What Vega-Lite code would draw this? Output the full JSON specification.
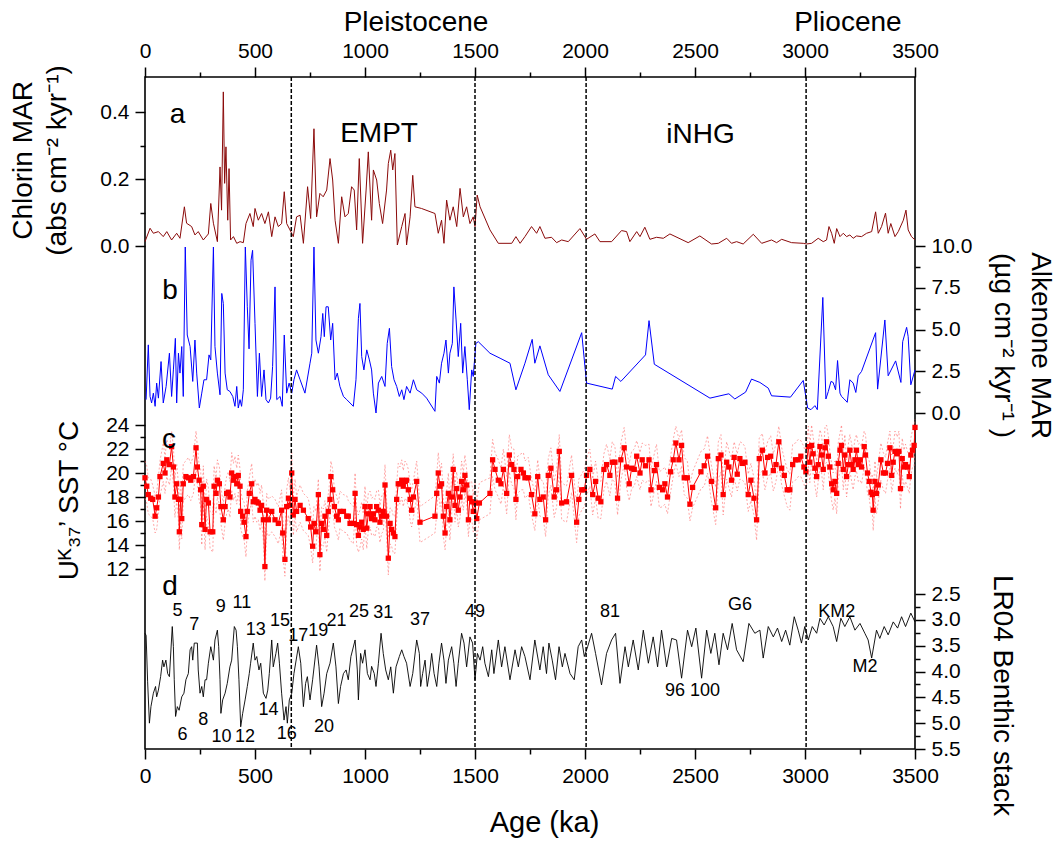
{
"$schema":"https://vega.github.io/schema/vega-lite/v6.json",
"width":770,"height":672,
"autosize":{"type":"none"},
"padding":{"left":145,"top":77,"right":141,"bottom":94},
"background":"white",
"config":{
 "view":{"stroke":"black","strokeWidth":1.6},
 "font":"Liberation Sans",
 "axis":{"domain":false,"grid":false,"labelFont":"Liberation Sans","labelFontSize":21,"labelColor":"black","titleFont":"Liberation Sans","titleFontSize":28,"titleFontWeight":"normal","titleColor":"black","tickColor":"black","tickWidth":1.5,"labelPadding":6,"labelFlush":false,"labelOverlap":false,"labelBound":false},
 "text":{"font":"Liberation Sans","color":"black"}
},
"datasets":{
"vl":[{"t":665},{"t":1500},{"t":2005},{"t":3005}],
"chl":[{"t":0,"v":0.013},{"t":23,"v":0.053},{"t":38,"v":0.038},{"t":61,"v":0.043},{"t":83,"v":0.028},{"t":99,"v":0.043},{"t":121,"v":0.018},{"t":144,"v":0.038},{"t":159,"v":0.023},{"t":179,"v":0.117},{"t":189,"v":0.068},{"t":212,"v":0.058},{"t":227,"v":0.033},{"t":242,"v":0.043},{"t":265,"v":0.018},{"t":288,"v":0.036},{"t":299,"v":0.127},{"t":311,"v":0.068},{"t":329,"v":0.013},{"t":341,"v":0.236},{"t":348,"v":0.107},{"t":356,"v":0.46},{"t":362,"v":0.187},{"t":368,"v":0.296},{"t":376,"v":0.077},{"t":382,"v":0.231},{"t":389,"v":0.018},{"t":402,"v":0.028},{"t":417,"v":0.008},{"t":432,"v":0.013},{"t":447,"v":0.01},{"t":459,"v":0.067},{"t":477,"v":0.097},{"t":492,"v":0.058},{"t":500,"v":0.112},{"t":515,"v":0.077},{"t":530,"v":0.097},{"t":545,"v":0.067},{"t":561,"v":0.102},{"t":576,"v":0.028},{"t":591,"v":0.087},{"t":606,"v":0.058},{"t":621,"v":0.067},{"t":633,"v":0.162},{"t":644,"v":0.067},{"t":659,"v":0.048},{"t":674,"v":0.028},{"t":689,"v":0.087},{"t":705,"v":0.092},{"t":720,"v":0.008},{"t":739,"v":0.177},{"t":753,"v":0.082},{"t":768,"v":0.35},{"t":780,"v":0.087},{"t":795,"v":0.157},{"t":810,"v":0.147},{"t":826,"v":0.167},{"t":841,"v":0.261},{"t":853,"v":0.197},{"t":864,"v":0.077},{"t":879,"v":0.008},{"t":894,"v":0.147},{"t":909,"v":0.087},{"t":924,"v":0.097},{"t":939,"v":0.177},{"t":951,"v":0.167},{"t":962,"v":0.048},{"t":974,"v":0.261},{"t":989,"v":0.008},{"t":1005,"v":0.167},{"t":1015,"v":0.281},{"t":1030,"v":0.077},{"t":1038,"v":0.227},{"t":1053,"v":0.197},{"t":1065,"v":0.127},{"t":1080,"v":0.067},{"t":1098,"v":0.167},{"t":1106,"v":0.246},{"t":1117,"v":0.286},{"t":1126,"v":0.227},{"t":1136,"v":0.276},{"t":1147,"v":0.003},{"t":1167,"v":0.058},{"t":1182,"v":0.097},{"t":1189,"v":0.003},{"t":1205,"v":0.087},{"t":1217,"v":0.211},{"t":1227,"v":0.117},{"t":1257,"v":0.112},{"t":1318,"v":0.097},{"t":1333,"v":0.038},{"t":1348,"v":0.077},{"t":1359,"v":0.008},{"t":1371,"v":0.137},{"t":1386,"v":0.077},{"t":1401,"v":0.117},{"t":1417,"v":0.058},{"t":1432,"v":0.172},{"t":1447,"v":0.087},{"t":1462,"v":0.117},{"t":1477,"v":0.067},{"t":1492,"v":0.087},{"t":1500,"v":0.058},{"t":1510,"v":0.152},{"t":1523,"v":0.117},{"t":1568,"v":0.048},{"t":1606,"v":0.008},{"t":1667,"v":0.008},{"t":1686,"v":0.028},{"t":1705,"v":0.008},{"t":1727,"v":0.028},{"t":1757,"v":0.058},{"t":1780,"v":0.038},{"t":1795,"v":0.058},{"t":1818,"v":0.023},{"t":1848,"v":0.026},{"t":1871,"v":0.01},{"t":1894,"v":0.018},{"t":1924,"v":0.013},{"t":1977,"v":0.052},{"t":2007,"v":0.02},{"t":2045,"v":0.036},{"t":2068,"v":0.013},{"t":2121,"v":0.013},{"t":2166,"v":0.046},{"t":2189,"v":0.043},{"t":2204,"v":0.013},{"t":2235,"v":0.043},{"t":2250,"v":0.028},{"t":2272,"v":0.056},{"t":2295,"v":0.02},{"t":2325,"v":0.026},{"t":2356,"v":0.023},{"t":2386,"v":0.036},{"t":2469,"v":0.01},{"t":2522,"v":0.03},{"t":2575,"v":0.006},{"t":2606,"v":0.008},{"t":2644,"v":0.023},{"t":2666,"v":0.008},{"t":2689,"v":0.013},{"t":2719,"v":0.006},{"t":2765,"v":0.035},{"t":2803,"v":0.008},{"t":2848,"v":0.018},{"t":2871,"v":0.01},{"t":2894,"v":0.02},{"t":2939,"v":0.01},{"t":2992,"v":0.008},{"t":3007,"v":0.006},{"t":3030,"v":0.008},{"t":3060,"v":0.023},{"t":3083,"v":0.013},{"t":3098,"v":0.018},{"t":3109,"v":0.058},{"t":3121,"v":0.038},{"t":3133,"v":0.008},{"t":3144,"v":0.052},{"t":3159,"v":0.028},{"t":3174,"v":0.038},{"t":3189,"v":0.028},{"t":3204,"v":0.033},{"t":3219,"v":0.023},{"t":3234,"v":0.03},{"t":3257,"v":0.028},{"t":3280,"v":0.038},{"t":3303,"v":0.043},{"t":3321,"v":0.102},{"t":3333,"v":0.038},{"t":3348,"v":0.058},{"t":3366,"v":0.098},{"t":3378,"v":0.038},{"t":3390,"v":0.067},{"t":3409,"v":0.028},{"t":3424,"v":0.043},{"t":3447,"v":0.077},{"t":3459,"v":0.107},{"t":3469,"v":0.048},{"t":3484,"v":0.028},{"t":3500,"v":0.018}],
"alk":[{"t":5,"v":0.8},{"t":15,"v":4.08},{"t":23,"v":0.99},{"t":30,"v":0.6},{"t":38,"v":1.19},{"t":46,"v":0.4},{"t":53,"v":1.79},{"t":61,"v":0.89},{"t":73,"v":3.08},{"t":83,"v":0.6},{"t":96,"v":1.59},{"t":111,"v":3.58},{"t":121,"v":0.99},{"t":129,"v":2.58},{"t":138,"v":4.47},{"t":144,"v":0.6},{"t":152,"v":3.58},{"t":159,"v":2.39},{"t":167,"v":3.98},{"t":174,"v":0.99},{"t":183,"v":9.94},{"t":192,"v":4.67},{"t":205,"v":3.98},{"t":217,"v":1.89},{"t":227,"v":4.37},{"t":235,"v":2.39},{"t":247,"v":0.3},{"t":258,"v":1.19},{"t":268,"v":1.99},{"t":280,"v":1.99},{"t":291,"v":3.48},{"t":299,"v":3.18},{"t":311,"v":9.94},{"t":318,"v":3.98},{"t":329,"v":2.39},{"t":341,"v":1.09},{"t":349,"v":7.16},{"t":356,"v":6.56},{"t":364,"v":2.39},{"t":374,"v":1.39},{"t":386,"v":1.29},{"t":399,"v":0.99},{"t":409,"v":0.4},{"t":417,"v":1.59},{"t":424,"v":0.3},{"t":432,"v":0.8},{"t":439,"v":0.4},{"t":447,"v":1.39},{"t":456,"v":9.94},{"t":465,"v":6.36},{"t":473,"v":3.84},{"t":482,"v":9.15},{"t":489,"v":9.74},{"t":500,"v":5.37},{"t":511,"v":0.99},{"t":520,"v":3.58},{"t":530,"v":0.99},{"t":541,"v":2.58},{"t":550,"v":0.8},{"t":561,"v":0.6},{"t":571,"v":0.89},{"t":580,"v":2.78},{"t":591,"v":7.55},{"t":599,"v":0.8},{"t":614,"v":0.99},{"t":624,"v":0.4},{"t":633,"v":4.67},{"t":644,"v":1.19},{"t":655,"v":1.79},{"t":667,"v":1.19},{"t":677,"v":1.99},{"t":689,"v":2.58},{"t":705,"v":1.99},{"t":727,"v":1.19},{"t":750,"v":2.98},{"t":758,"v":3.58},{"t":768,"v":9.94},{"t":777,"v":4.37},{"t":788,"v":3.58},{"t":800,"v":4.57},{"t":808,"v":5.96},{"t":815,"v":4.57},{"t":823,"v":6.36},{"t":833,"v":6.36},{"t":844,"v":4.37},{"t":853,"v":5.37},{"t":864,"v":1.99},{"t":874,"v":2.39},{"t":886,"v":1.59},{"t":902,"v":0.99},{"t":917,"v":0.8},{"t":947,"v":0.4},{"t":959,"v":1.99},{"t":970,"v":5.67},{"t":977,"v":6.56},{"t":985,"v":3.38},{"t":995,"v":2.58},{"t":1008,"v":3.78},{"t":1020,"v":3.18},{"t":1030,"v":2.58},{"t":1038,"v":1.19},{"t":1050,"v":0.0},{"t":1061,"v":1.79},{"t":1076,"v":2.19},{"t":1091,"v":1.59},{"t":1101,"v":4.17},{"t":1111,"v":5.07},{"t":1121,"v":2.78},{"t":1132,"v":1.99},{"t":1144,"v":1.59},{"t":1156,"v":0.99},{"t":1167,"v":1.39},{"t":1177,"v":0.8},{"t":1189,"v":1.59},{"t":1205,"v":1.19},{"t":1220,"v":1.99},{"t":1235,"v":1.39},{"t":1258,"v":1.19},{"t":1280,"v":0.89},{"t":1318,"v":0.1},{"t":1326,"v":2.19},{"t":1338,"v":1.79},{"t":1348,"v":2.98},{"t":1359,"v":3.58},{"t":1368,"v":4.37},{"t":1379,"v":2.39},{"t":1386,"v":3.58},{"t":1397,"v":4.17},{"t":1404,"v":7.55},{"t":1414,"v":5.57},{"t":1424,"v":3.38},{"t":1435,"v":5.37},{"t":1444,"v":2.39},{"t":1454,"v":3.98},{"t":1465,"v":1.99},{"t":1474,"v":0.2},{"t":1485,"v":2.58},{"t":1492,"v":2.19},{"t":1504,"v":4.17},{"t":1515,"v":4.27},{"t":1568,"v":3.58},{"t":1614,"v":3.28},{"t":1659,"v":2.98},{"t":1686,"v":1.39},{"t":1727,"v":2.98},{"t":1760,"v":4.41},{"t":1772,"v":2.98},{"t":1795,"v":4.02},{"t":1833,"v":2.29},{"t":1886,"v":1.29},{"t":1985,"v":4.81},{"t":2007,"v":1.79},{"t":2124,"v":1.43},{"t":2139,"v":2.19},{"t":2163,"v":1.89},{"t":2275,"v":3.48},{"t":2291,"v":5.53},{"t":2315,"v":2.92},{"t":2568,"v":0.89},{"t":2654,"v":1.15},{"t":2681,"v":0.84},{"t":2730,"v":1.25},{"t":2757,"v":2.03},{"t":2795,"v":1.83},{"t":2833,"v":1.49},{"t":2848,"v":1.03},{"t":2934,"v":0.95},{"t":2992,"v":1.95},{"t":3012,"v":0.3},{"t":3027,"v":0.2},{"t":3045,"v":0.44},{"t":3056,"v":0.2},{"t":3081,"v":6.92},{"t":3095,"v":0.84},{"t":3106,"v":1.29},{"t":3118,"v":1.89},{"t":3128,"v":1.83},{"t":3139,"v":1.39},{"t":3148,"v":3.14},{"t":3159,"v":1.19},{"t":3166,"v":0.99},{"t":3178,"v":0.84},{"t":3192,"v":0.64},{"t":3204,"v":1.99},{"t":3219,"v":1.79},{"t":3231,"v":1.23},{"t":3242,"v":2.23},{"t":3257,"v":2.49},{"t":3321,"v":4.81},{"t":3330,"v":1.43},{"t":3363,"v":5.57},{"t":3378,"v":2.23},{"t":3412,"v":3.12},{"t":3436,"v":1.83},{"t":3444,"v":4.27},{"t":3462,"v":5.13},{"t":3469,"v":4.57},{"t":3481,"v":1.69},{"t":3500,"v":2.58}],
"sst":[{"t":0,"v":19.6,"h":21.0,"l":17.9},{"t":8,"v":18.9,"h":20.6,"l":17.5},{"t":15,"v":18.2,"h":19.6,"l":16.6},{"t":26,"v":17.9,"h":19.5,"l":16.4},{"t":35,"v":17.8,"h":19.0,"l":16.2},{"t":46,"v":16.4,"h":18.1,"l":15.0},{"t":53,"v":17.1,"h":18.4,"l":15.3},{"t":61,"v":18.0,"h":19.7,"l":16.6},{"t":68,"v":19.7,"h":21.0,"l":18.1},{"t":83,"v":20.8,"h":22.5,"l":19.3},{"t":91,"v":20.0,"h":21.3,"l":18.3},{"t":99,"v":21.1,"h":22.8,"l":19.7},{"t":111,"v":20.7,"h":22.0,"l":19.0},{"t":121,"v":22.2,"h":23.5,"l":20.5},{"t":129,"v":20.5,"h":22.2,"l":19.1},{"t":136,"v":18.0,"h":19.5,"l":16.3},{"t":144,"v":19.1,"h":20.8,"l":17.7},{"t":152,"v":17.8,"h":19.1,"l":16.0},{"t":156,"v":15.1,"h":16.8,"l":13.6},{"t":162,"v":17.8,"h":19.4,"l":16.3},{"t":167,"v":16.2,"h":17.6,"l":14.5},{"t":174,"v":19.1,"h":20.8,"l":17.6},{"t":186,"v":19.7,"h":21.0,"l":18.0},{"t":197,"v":19.6,"h":21.3,"l":18.2},{"t":208,"v":19.4,"h":20.8,"l":17.7},{"t":220,"v":19.7,"h":21.4,"l":18.3},{"t":232,"v":22.1,"h":23.5,"l":20.4},{"t":238,"v":20.5,"h":22.2,"l":19.1},{"t":246,"v":19.4,"h":20.7,"l":17.7},{"t":253,"v":18.6,"h":20.3,"l":17.2},{"t":258,"v":15.7,"h":17.1,"l":14.0},{"t":265,"v":18.9,"h":20.6,"l":17.5},{"t":273,"v":15.3,"h":16.6,"l":13.6},{"t":280,"v":17.8,"h":19.5,"l":16.4},{"t":288,"v":17.5,"h":18.8,"l":15.8},{"t":296,"v":15.1,"h":16.8,"l":13.7},{"t":308,"v":15.1,"h":16.5,"l":13.4},{"t":314,"v":18.9,"h":20.6,"l":17.5},{"t":323,"v":18.3,"h":19.6,"l":16.6},{"t":329,"v":19.4,"h":21.1,"l":18.0},{"t":338,"v":19.1,"h":20.5,"l":17.4},{"t":345,"v":17.2,"h":18.9,"l":15.8},{"t":356,"v":16.1,"h":17.4,"l":14.4},{"t":364,"v":17.2,"h":18.9,"l":15.8},{"t":371,"v":18.3,"h":19.7,"l":16.6},{"t":379,"v":18.4,"h":20.1,"l":17.0},{"t":386,"v":18.0,"h":19.3,"l":16.3},{"t":394,"v":20.0,"h":21.7,"l":18.6},{"t":402,"v":19.4,"h":20.8,"l":17.7},{"t":409,"v":19.7,"h":21.4,"l":18.3},{"t":417,"v":19.1,"h":20.4,"l":17.4},{"t":424,"v":19.8,"h":21.5,"l":18.4},{"t":432,"v":18.9,"h":20.3,"l":17.2},{"t":435,"v":16.8,"h":18.5,"l":15.4},{"t":444,"v":16.4,"h":17.7,"l":14.7},{"t":450,"v":15.9,"h":17.6,"l":14.5},{"t":459,"v":14.7,"h":16.1,"l":13.0},{"t":465,"v":16.8,"h":18.5,"l":15.4},{"t":474,"v":18.3,"h":19.6,"l":16.6},{"t":485,"v":19.1,"h":20.8,"l":17.7},{"t":492,"v":17.6,"h":19.0,"l":15.9},{"t":500,"v":17.8,"h":19.5,"l":16.4},{"t":508,"v":17.6,"h":18.9,"l":15.9},{"t":515,"v":17.5,"h":19.2,"l":16.1},{"t":523,"v":16.9,"h":18.3,"l":15.2},{"t":530,"v":17.3,"h":19.0,"l":15.9},{"t":538,"v":16.1,"h":17.4,"l":14.4},{"t":545,"v":12.2,"h":13.9,"l":11.0},{"t":553,"v":16.9,"h":18.3,"l":15.2},{"t":561,"v":16.1,"h":17.8,"l":14.7},{"t":576,"v":16.8,"h":18.1,"l":15.1},{"t":591,"v":16.1,"h":17.8,"l":14.7},{"t":606,"v":15.8,"h":17.2,"l":14.1},{"t":621,"v":16.9,"h":18.6,"l":15.5},{"t":626,"v":15.0,"h":16.3,"l":13.3},{"t":636,"v":12.8,"h":14.5,"l":11.4},{"t":644,"v":17.2,"h":18.6,"l":15.5},{"t":652,"v":17.9,"h":19.6,"l":16.5},{"t":659,"v":17.3,"h":18.6,"l":15.6},{"t":667,"v":20.0,"h":21.7,"l":18.6},{"t":674,"v":16.5,"h":17.9,"l":14.8},{"t":682,"v":17.8,"h":19.5,"l":16.4},{"t":689,"v":16.8,"h":18.1,"l":15.1},{"t":705,"v":17.3,"h":19.0,"l":15.9},{"t":720,"v":16.9,"h":18.3,"l":15.2},{"t":742,"v":16.2,"h":17.9,"l":14.8},{"t":753,"v":15.5,"h":16.8,"l":13.8},{"t":762,"v":13.9,"h":15.6,"l":12.5},{"t":768,"v":15.8,"h":17.2,"l":14.1},{"t":777,"v":15.1,"h":16.8,"l":13.7},{"t":788,"v":18.2,"h":19.5,"l":16.5},{"t":795,"v":13.2,"h":14.9,"l":11.8},{"t":803,"v":15.8,"h":17.2,"l":14.1},{"t":811,"v":15.3,"h":17.0,"l":13.9},{"t":818,"v":16.4,"h":17.7,"l":14.7},{"t":826,"v":14.8,"h":16.5,"l":13.4},{"t":833,"v":16.8,"h":18.2,"l":15.1},{"t":841,"v":17.8,"h":19.5,"l":16.4},{"t":845,"v":19.7,"h":21.0,"l":18.0},{"t":853,"v":18.6,"h":20.3,"l":17.2},{"t":861,"v":17.2,"h":18.6,"l":15.5},{"t":871,"v":16.4,"h":18.1,"l":15.0},{"t":879,"v":16.1,"h":17.4,"l":14.4},{"t":886,"v":16.8,"h":18.5,"l":15.4},{"t":902,"v":16.8,"h":18.2,"l":15.1},{"t":917,"v":16.4,"h":18.1,"l":15.0},{"t":924,"v":16.4,"h":17.7,"l":14.7},{"t":932,"v":15.8,"h":17.5,"l":14.4},{"t":947,"v":15.8,"h":17.2,"l":14.1},{"t":955,"v":18.3,"h":20.0,"l":16.9},{"t":962,"v":15.7,"h":17.0,"l":14.0},{"t":970,"v":14.8,"h":16.5,"l":13.4},{"t":977,"v":15.5,"h":16.9,"l":13.8},{"t":985,"v":15.9,"h":17.6,"l":14.5},{"t":992,"v":15.3,"h":16.6,"l":13.6},{"t":1000,"v":17.2,"h":18.9,"l":15.8},{"t":1008,"v":15.4,"h":16.8,"l":13.7},{"t":1015,"v":16.6,"h":18.3,"l":15.2},{"t":1023,"v":17.2,"h":18.5,"l":15.5},{"t":1030,"v":16.2,"h":17.9,"l":14.8},{"t":1038,"v":16.6,"h":18.0,"l":14.9},{"t":1045,"v":16.1,"h":17.8,"l":14.7},{"t":1053,"v":17.2,"h":18.5,"l":15.5},{"t":1061,"v":16.9,"h":18.6,"l":15.5},{"t":1068,"v":15.9,"h":17.3,"l":14.2},{"t":1076,"v":16.4,"h":18.1,"l":15.0},{"t":1083,"v":16.8,"h":18.1,"l":15.1},{"t":1091,"v":19.0,"h":20.7,"l":17.6},{"t":1098,"v":16.4,"h":17.8,"l":14.7},{"t":1106,"v":12.9,"h":14.6,"l":11.5},{"t":1114,"v":15.8,"h":17.1,"l":14.1},{"t":1121,"v":15.3,"h":17.0,"l":13.9},{"t":1129,"v":15.0,"h":16.4,"l":13.3},{"t":1136,"v":14.7,"h":16.4,"l":13.3},{"t":1144,"v":17.8,"h":19.1,"l":16.1},{"t":1151,"v":19.1,"h":20.8,"l":17.7},{"t":1159,"v":19.1,"h":20.5,"l":17.4},{"t":1167,"v":19.4,"h":21.1,"l":18.0},{"t":1174,"v":18.9,"h":20.2,"l":17.2},{"t":1182,"v":19.3,"h":21.0,"l":17.9},{"t":1189,"v":19.4,"h":20.8,"l":17.7},{"t":1197,"v":18.6,"h":20.3,"l":17.2},{"t":1205,"v":17.8,"h":19.1,"l":16.1},{"t":1212,"v":16.9,"h":18.6,"l":15.5},{"t":1220,"v":18.0,"h":19.4,"l":16.3},{"t":1235,"v":19.3,"h":21.0,"l":17.9},{"t":1250,"v":15.9,"h":17.2,"l":14.2},{"t":1318,"v":16.4,"h":18.1,"l":15.0},{"t":1326,"v":18.3,"h":19.7,"l":16.6},{"t":1333,"v":20.0,"h":21.7,"l":18.6},{"t":1341,"v":18.9,"h":20.2,"l":17.2},{"t":1348,"v":19.1,"h":20.8,"l":17.7},{"t":1356,"v":16.4,"h":17.8,"l":14.7},{"t":1364,"v":15.0,"h":16.7,"l":13.6},{"t":1371,"v":17.2,"h":18.5,"l":15.5},{"t":1379,"v":18.3,"h":20.0,"l":16.9},{"t":1386,"v":16.1,"h":17.5,"l":14.4},{"t":1394,"v":18.0,"h":19.7,"l":16.6},{"t":1401,"v":20.3,"h":21.6,"l":18.6},{"t":1409,"v":17.3,"h":19.0,"l":15.9},{"t":1417,"v":18.7,"h":20.1,"l":17.0},{"t":1424,"v":16.9,"h":18.6,"l":15.5},{"t":1432,"v":18.0,"h":19.3,"l":16.3},{"t":1439,"v":19.3,"h":21.0,"l":17.9},{"t":1447,"v":18.6,"h":20.0,"l":16.9},{"t":1454,"v":19.8,"h":21.5,"l":18.4},{"t":1462,"v":19.0,"h":20.3,"l":17.3},{"t":1470,"v":16.1,"h":17.8,"l":14.7},{"t":1477,"v":17.9,"h":19.3,"l":16.2},{"t":1485,"v":17.6,"h":19.3,"l":16.2},{"t":1492,"v":16.8,"h":18.1,"l":15.1},{"t":1500,"v":17.5,"h":19.2,"l":16.1},{"t":1508,"v":16.2,"h":17.6,"l":14.5},{"t":1520,"v":17.5,"h":19.2,"l":16.1},{"t":1568,"v":18.3,"h":19.6,"l":16.6},{"t":1580,"v":21.1,"h":22.8,"l":19.7},{"t":1591,"v":20.3,"h":21.7,"l":18.6},{"t":1606,"v":19.4,"h":21.1,"l":18.0},{"t":1618,"v":19.1,"h":20.4,"l":17.4},{"t":1629,"v":20.3,"h":22.0,"l":18.9},{"t":1644,"v":18.3,"h":19.7,"l":16.6},{"t":1656,"v":21.5,"h":23.2,"l":20.1},{"t":1667,"v":20.7,"h":22.0,"l":19.0},{"t":1677,"v":20.3,"h":22.0,"l":18.9},{"t":1686,"v":17.8,"h":19.2,"l":16.1},{"t":1694,"v":19.7,"h":21.4,"l":18.3},{"t":1709,"v":20.3,"h":21.6,"l":18.6},{"t":1720,"v":20.0,"h":21.7,"l":18.6},{"t":1727,"v":19.6,"h":21.0,"l":17.9},{"t":1742,"v":19.6,"h":21.3,"l":18.2},{"t":1757,"v":18.2,"h":19.5,"l":16.5},{"t":1772,"v":16.6,"h":18.3,"l":15.2},{"t":1785,"v":19.7,"h":21.1,"l":18.0},{"t":1795,"v":17.8,"h":19.5,"l":16.4},{"t":1810,"v":18.0,"h":19.3,"l":16.3},{"t":1821,"v":16.1,"h":17.8,"l":14.7},{"t":1833,"v":19.8,"h":21.2,"l":18.1},{"t":1845,"v":20.4,"h":22.1,"l":19.0},{"t":1860,"v":18.0,"h":19.3,"l":16.3},{"t":1871,"v":18.6,"h":20.3,"l":17.2},{"t":1883,"v":21.8,"h":23.2,"l":20.1},{"t":1894,"v":17.5,"h":19.2,"l":16.1},{"t":1916,"v":17.6,"h":18.9,"l":15.9},{"t":1939,"v":19.8,"h":21.5,"l":18.4},{"t":1962,"v":15.9,"h":17.3,"l":14.2},{"t":1972,"v":17.8,"h":19.5,"l":16.4},{"t":1985,"v":18.6,"h":19.9,"l":16.9},{"t":1997,"v":18.6,"h":20.3,"l":17.2},{"t":2007,"v":19.8,"h":21.2,"l":18.1},{"t":2022,"v":20.3,"h":22.0,"l":18.9},{"t":2035,"v":18.2,"h":19.5,"l":16.5},{"t":2048,"v":19.3,"h":21.0,"l":17.9},{"t":2060,"v":17.9,"h":19.3,"l":16.2},{"t":2072,"v":17.6,"h":19.3,"l":16.2},{"t":2086,"v":20.3,"h":21.6,"l":18.6},{"t":2098,"v":20.7,"h":22.4,"l":19.3},{"t":2113,"v":19.8,"h":21.2,"l":18.1},{"t":2124,"v":20.9,"h":22.6,"l":19.5},{"t":2136,"v":20.9,"h":22.2,"l":19.2},{"t":2148,"v":17.9,"h":19.6,"l":16.5},{"t":2163,"v":21.1,"h":22.5,"l":19.4},{"t":2178,"v":22.1,"h":23.8,"l":20.7},{"t":2189,"v":20.5,"h":21.8,"l":18.8},{"t":2201,"v":19.1,"h":20.8,"l":17.7},{"t":2212,"v":20.4,"h":21.8,"l":18.7},{"t":2224,"v":20.3,"h":22.0,"l":18.9},{"t":2235,"v":21.4,"h":22.7,"l":19.7},{"t":2250,"v":20.0,"h":21.7,"l":18.6},{"t":2260,"v":21.1,"h":22.5,"l":19.4},{"t":2275,"v":20.6,"h":22.3,"l":19.2},{"t":2291,"v":21.1,"h":22.4,"l":19.4},{"t":2300,"v":18.6,"h":20.3,"l":17.2},{"t":2315,"v":20.2,"h":21.6,"l":18.5},{"t":2325,"v":20.7,"h":22.4,"l":19.3},{"t":2338,"v":18.8,"h":20.1,"l":17.1},{"t":2353,"v":18.6,"h":20.3,"l":17.2},{"t":2363,"v":19.1,"h":20.5,"l":17.4},{"t":2375,"v":18.0,"h":19.7,"l":16.6},{"t":2389,"v":20.1,"h":21.4,"l":18.4},{"t":2401,"v":21.1,"h":22.8,"l":19.7},{"t":2413,"v":22.5,"h":23.9,"l":20.8},{"t":2427,"v":21.1,"h":22.8,"l":19.7},{"t":2439,"v":22.3,"h":23.6,"l":20.6},{"t":2451,"v":19.6,"h":21.3,"l":18.2},{"t":2465,"v":19.6,"h":21.0,"l":17.9},{"t":2477,"v":17.4,"h":19.1,"l":16.0},{"t":2489,"v":18.8,"h":20.1,"l":17.1},{"t":2527,"v":20.1,"h":21.8,"l":18.7},{"t":2542,"v":20.6,"h":22.0,"l":18.9},{"t":2557,"v":21.4,"h":23.1,"l":20.0},{"t":2575,"v":19.3,"h":20.6,"l":17.6},{"t":2594,"v":17.1,"h":18.8,"l":15.7},{"t":2606,"v":21.2,"h":22.6,"l":19.5},{"t":2618,"v":21.5,"h":23.2,"l":20.1},{"t":2628,"v":18.2,"h":19.5,"l":16.5},{"t":2644,"v":20.9,"h":22.6,"l":19.5},{"t":2654,"v":20.5,"h":21.9,"l":18.8},{"t":2666,"v":19.4,"h":21.1,"l":18.0},{"t":2678,"v":21.3,"h":22.6,"l":19.6},{"t":2692,"v":19.9,"h":21.6,"l":18.5},{"t":2704,"v":21.2,"h":22.6,"l":19.5},{"t":2715,"v":20.8,"h":22.5,"l":19.4},{"t":2727,"v":20.9,"h":22.2,"l":19.2},{"t":2742,"v":18.2,"h":19.9,"l":16.8},{"t":2754,"v":19.4,"h":20.8,"l":17.7},{"t":2768,"v":17.9,"h":19.6,"l":16.5},{"t":2780,"v":16.1,"h":17.4,"l":14.4},{"t":2792,"v":21.2,"h":22.9,"l":19.8},{"t":2806,"v":21.9,"h":23.3,"l":20.2},{"t":2818,"v":20.0,"h":21.7,"l":18.6},{"t":2830,"v":21.3,"h":22.6,"l":19.6},{"t":2844,"v":21.4,"h":23.1,"l":20.0},{"t":2856,"v":20.2,"h":21.6,"l":18.5},{"t":2868,"v":20.7,"h":22.4,"l":19.3},{"t":2881,"v":22.6,"h":23.9,"l":20.9},{"t":2894,"v":20.4,"h":22.1,"l":19.0},{"t":2906,"v":19.8,"h":21.2,"l":18.1},{"t":2919,"v":18.6,"h":20.3,"l":17.2},{"t":2931,"v":18.6,"h":19.9,"l":16.9},{"t":2944,"v":20.7,"h":22.4,"l":19.3},{"t":2957,"v":21.1,"h":22.5,"l":19.4},{"t":2969,"v":21.1,"h":22.8,"l":19.7},{"t":2981,"v":21.4,"h":22.7,"l":19.7},{"t":2995,"v":20.5,"h":22.2,"l":19.1},{"t":3004,"v":20.1,"h":21.5,"l":18.4},{"t":3015,"v":22.2,"h":23.9,"l":20.8},{"t":3022,"v":20.9,"h":22.2,"l":19.2},{"t":3030,"v":22.3,"h":24.0,"l":20.9},{"t":3037,"v":21.6,"h":23.0,"l":19.9},{"t":3045,"v":20.4,"h":22.1,"l":19.0},{"t":3053,"v":19.7,"h":21.0,"l":18.0},{"t":3060,"v":20.7,"h":22.4,"l":19.3},{"t":3068,"v":22.2,"h":23.6,"l":20.5},{"t":3075,"v":21.5,"h":23.2,"l":20.1},{"t":3083,"v":20.3,"h":21.6,"l":18.6},{"t":3091,"v":22.1,"h":23.8,"l":20.7},{"t":3098,"v":22.6,"h":24.0,"l":20.9},{"t":3106,"v":21.4,"h":23.1,"l":20.0},{"t":3113,"v":20.5,"h":21.8,"l":18.8},{"t":3121,"v":19.1,"h":20.8,"l":17.7},{"t":3128,"v":18.6,"h":20.0,"l":16.9},{"t":3136,"v":19.3,"h":21.0,"l":17.9},{"t":3144,"v":18.3,"h":19.6,"l":16.6},{"t":3151,"v":20.8,"h":22.5,"l":19.4},{"t":3159,"v":21.9,"h":23.3,"l":20.2},{"t":3166,"v":22.3,"h":24.0,"l":20.9},{"t":3174,"v":20.3,"h":21.6,"l":18.6},{"t":3181,"v":21.5,"h":23.2,"l":20.1},{"t":3189,"v":19.7,"h":21.1,"l":18.0},{"t":3197,"v":20.7,"h":22.4,"l":19.3},{"t":3204,"v":21.9,"h":23.2,"l":20.2},{"t":3212,"v":20.7,"h":22.4,"l":19.3},{"t":3219,"v":20.3,"h":21.7,"l":18.6},{"t":3227,"v":21.1,"h":22.8,"l":19.7},{"t":3234,"v":21.9,"h":23.2,"l":20.2},{"t":3242,"v":20.7,"h":22.4,"l":19.3},{"t":3250,"v":21.1,"h":22.5,"l":19.4},{"t":3257,"v":20.5,"h":22.2,"l":19.1},{"t":3269,"v":22.2,"h":23.5,"l":20.5},{"t":3275,"v":21.5,"h":23.2,"l":20.1},{"t":3284,"v":20.0,"h":21.4,"l":18.3},{"t":3292,"v":19.3,"h":21.0,"l":17.9},{"t":3300,"v":18.4,"h":19.7,"l":16.7},{"t":3306,"v":18.2,"h":19.9,"l":16.8},{"t":3310,"v":16.9,"h":18.3,"l":15.2},{"t":3318,"v":19.3,"h":21.0,"l":17.9},{"t":3325,"v":18.3,"h":19.6,"l":16.6},{"t":3333,"v":19.0,"h":20.7,"l":17.6},{"t":3345,"v":21.1,"h":22.5,"l":19.4},{"t":3356,"v":20.0,"h":21.7,"l":18.6},{"t":3366,"v":20.0,"h":21.3,"l":18.3},{"t":3375,"v":20.8,"h":22.5,"l":19.4},{"t":3386,"v":22.1,"h":23.5,"l":20.4},{"t":3394,"v":19.8,"h":21.5,"l":18.4},{"t":3401,"v":20.9,"h":22.2,"l":19.2},{"t":3409,"v":21.8,"h":23.5,"l":20.4},{"t":3419,"v":21.6,"h":23.0,"l":19.9},{"t":3427,"v":21.8,"h":23.5,"l":20.4},{"t":3434,"v":18.7,"h":20.0,"l":17.0},{"t":3442,"v":21.2,"h":22.9,"l":19.8},{"t":3450,"v":20.5,"h":21.9,"l":18.8},{"t":3457,"v":20.7,"h":22.4,"l":19.3},{"t":3466,"v":20.5,"h":21.8,"l":18.8},{"t":3474,"v":19.7,"h":21.4,"l":18.3},{"t":3481,"v":21.5,"h":22.9,"l":19.8},{"t":3489,"v":21.9,"h":23.6,"l":20.5},{"t":3496,"v":22.3,"h":23.6,"l":20.6},{"t":3500,"v":23.8,"h":24.5,"l":22.3}],
"lr":[{"t":0,"v":3.26},{"t":5,"v":3.3},{"t":12,"v":4.2},{"t":20,"v":5.0},{"t":27,"v":4.68},{"t":38,"v":4.42},{"t":48,"v":4.29},{"t":53,"v":4.49},{"t":61,"v":4.36},{"t":71,"v":4.1},{"t":80,"v":3.78},{"t":86,"v":3.91},{"t":95,"v":3.78},{"t":103,"v":4.04},{"t":111,"v":4.1},{"t":124,"v":3.13},{"t":129,"v":3.52},{"t":133,"v":4.16},{"t":139,"v":4.87},{"t":147,"v":4.68},{"t":155,"v":4.75},{"t":167,"v":4.49},{"t":177,"v":4.42},{"t":186,"v":4.16},{"t":197,"v":4.04},{"t":205,"v":3.58},{"t":212,"v":3.52},{"t":217,"v":3.78},{"t":224,"v":3.45},{"t":238,"v":3.45},{"t":242,"v":3.97},{"t":250,"v":4.42},{"t":258,"v":4.29},{"t":265,"v":4.49},{"t":273,"v":4.16},{"t":280,"v":4.16},{"t":288,"v":3.84},{"t":299,"v":3.52},{"t":311,"v":3.78},{"t":318,"v":3.39},{"t":329,"v":3.2},{"t":335,"v":3.52},{"t":341,"v":4.16},{"t":345,"v":4.81},{"t":353,"v":4.55},{"t":364,"v":4.42},{"t":374,"v":4.23},{"t":386,"v":3.91},{"t":394,"v":3.78},{"t":406,"v":3.13},{"t":414,"v":3.2},{"t":420,"v":3.52},{"t":427,"v":4.16},{"t":435,"v":5.07},{"t":444,"v":4.81},{"t":455,"v":4.55},{"t":465,"v":4.29},{"t":474,"v":4.04},{"t":480,"v":3.84},{"t":492,"v":3.45},{"t":500,"v":3.78},{"t":508,"v":3.71},{"t":518,"v":3.97},{"t":526,"v":3.84},{"t":538,"v":4.42},{"t":550,"v":4.52},{"t":558,"v":4.36},{"t":565,"v":4.04},{"t":576,"v":3.39},{"t":583,"v":3.91},{"t":595,"v":3.65},{"t":603,"v":3.45},{"t":611,"v":3.84},{"t":621,"v":4.42},{"t":632,"v":4.94},{"t":641,"v":4.68},{"t":647,"v":5.0},{"t":656,"v":4.55},{"t":667,"v":4.42},{"t":677,"v":4.04},{"t":697,"v":3.52},{"t":708,"v":3.84},{"t":720,"v":4.68},{"t":730,"v":4.23},{"t":738,"v":4.1},{"t":750,"v":4.55},{"t":762,"v":4.16},{"t":780,"v":3.49},{"t":791,"v":3.91},{"t":803,"v":4.68},{"t":814,"v":4.42},{"t":826,"v":4.04},{"t":841,"v":3.84},{"t":856,"v":3.45},{"t":868,"v":3.91},{"t":879,"v":4.62},{"t":889,"v":4.29},{"t":902,"v":4.04},{"t":914,"v":3.97},{"t":924,"v":4.16},{"t":936,"v":3.71},{"t":955,"v":3.39},{"t":965,"v":3.97},{"t":970,"v":4.55},{"t":980,"v":3.65},{"t":989,"v":3.84},{"t":1000,"v":3.58},{"t":1011,"v":4.04},{"t":1023,"v":4.16},{"t":1030,"v":3.9},{"t":1042,"v":4.04},{"t":1050,"v":4.29},{"t":1061,"v":3.84},{"t":1073,"v":3.26},{"t":1083,"v":3.65},{"t":1094,"v":3.97},{"t":1106,"v":4.16},{"t":1117,"v":3.91},{"t":1129,"v":4.42},{"t":1141,"v":3.91},{"t":1156,"v":3.71},{"t":1167,"v":3.58},{"t":1177,"v":3.71},{"t":1189,"v":3.84},{"t":1205,"v":4.29},{"t":1217,"v":4.04},{"t":1235,"v":3.39},{"t":1247,"v":3.65},{"t":1253,"v":4.29},{"t":1262,"v":4.04},{"t":1273,"v":3.78},{"t":1283,"v":4.29},{"t":1295,"v":3.97},{"t":1303,"v":3.65},{"t":1314,"v":4.04},{"t":1326,"v":4.29},{"t":1336,"v":3.84},{"t":1348,"v":3.45},{"t":1359,"v":3.78},{"t":1368,"v":4.23},{"t":1379,"v":3.78},{"t":1394,"v":3.52},{"t":1404,"v":3.84},{"t":1414,"v":4.29},{"t":1424,"v":3.84},{"t":1439,"v":3.26},{"t":1450,"v":3.45},{"t":1462,"v":3.91},{"t":1477,"v":3.33},{"t":1489,"v":3.45},{"t":1500,"v":4.16},{"t":1511,"v":3.65},{"t":1523,"v":3.78},{"t":1535,"v":3.52},{"t":1545,"v":3.84},{"t":1561,"v":4.1},{"t":1576,"v":3.58},{"t":1586,"v":4.04},{"t":1606,"v":3.39},{"t":1621,"v":3.91},{"t":1636,"v":3.52},{"t":1659,"v":4.16},{"t":1682,"v":3.58},{"t":1697,"v":3.91},{"t":1712,"v":3.52},{"t":1727,"v":3.71},{"t":1750,"v":4.16},{"t":1772,"v":3.39},{"t":1795,"v":3.97},{"t":1810,"v":3.52},{"t":1825,"v":4.04},{"t":1836,"v":3.45},{"t":1851,"v":3.78},{"t":1866,"v":4.16},{"t":1882,"v":3.52},{"t":1897,"v":3.91},{"t":1909,"v":3.65},{"t":1932,"v":4.04},{"t":1951,"v":4.16},{"t":1969,"v":3.52},{"t":1985,"v":3.39},{"t":1997,"v":3.71},{"t":2012,"v":3.52},{"t":2030,"v":3.26},{"t":2048,"v":3.65},{"t":2075,"v":4.26},{"t":2098,"v":3.65},{"t":2121,"v":3.39},{"t":2139,"v":3.26},{"t":2159,"v":4.23},{"t":2182,"v":3.52},{"t":2197,"v":3.91},{"t":2219,"v":3.39},{"t":2242,"v":3.97},{"t":2265,"v":3.2},{"t":2288,"v":3.84},{"t":2310,"v":3.33},{"t":2330,"v":3.91},{"t":2348,"v":3.2},{"t":2371,"v":3.91},{"t":2394,"v":3.36},{"t":2416,"v":3.39},{"t":2439,"v":4.13},{"t":2466,"v":3.2},{"t":2485,"v":3.52},{"t":2504,"v":3.16},{"t":2530,"v":4.13},{"t":2553,"v":3.2},{"t":2572,"v":3.65},{"t":2590,"v":3.26},{"t":2609,"v":3.87},{"t":2628,"v":3.26},{"t":2648,"v":3.58},{"t":2669,"v":3.07},{"t":2689,"v":3.58},{"t":2719,"v":3.81},{"t":2745,"v":3.07},{"t":2772,"v":3.26},{"t":2795,"v":3.2},{"t":2810,"v":3.74},{"t":2833,"v":3.13},{"t":2856,"v":3.33},{"t":2875,"v":3.16},{"t":2894,"v":3.42},{"t":2912,"v":3.2},{"t":2931,"v":3.49},{"t":2951,"v":2.94},{"t":2969,"v":3.2},{"t":2984,"v":3.45},{"t":2999,"v":3.13},{"t":3015,"v":3.39},{"t":3033,"v":3.13},{"t":3053,"v":3.26},{"t":3068,"v":2.97},{"t":3087,"v":3.1},{"t":3106,"v":2.94},{"t":3128,"v":3.13},{"t":3144,"v":3.42},{"t":3163,"v":2.97},{"t":3181,"v":3.13},{"t":3204,"v":2.94},{"t":3227,"v":3.2},{"t":3250,"v":3.07},{"t":3272,"v":3.26},{"t":3287,"v":3.39},{"t":3303,"v":3.74},{"t":3325,"v":3.2},{"t":3340,"v":3.36},{"t":3360,"v":3.13},{"t":3378,"v":3.29},{"t":3401,"v":3.04},{"t":3421,"v":3.16},{"t":3439,"v":2.94},{"t":3457,"v":3.13},{"t":3481,"v":2.87},{"t":3500,"v":3.04}],
"labA":[{"t":148,"v":0.39,"s":"a"},{"t":1064,"v":0.334,"s":"EMPT"},{"t":2525,"v":0.331,"s":"iNHG"}],
"labE":[{"t":1232,"v":0.667,"s":"Pleistocene"},{"t":3195,"v":0.667,"s":"Pliocene"}],
"labB":[{"t":114,"v":7.3,"s":"b"}],
"labC":[{"t":109,"v":22.75,"s":"c"}],
"labD":[{"t":114,"v":2.36,"s":"d"}],
"mis":[{"t":148,"v":2.83,"s":"5"},{"t":224,"v":3.1,"s":"7"},{"t":344,"v":2.76,"s":"9"},{"t":440,"v":2.68,"s":"11"},{"t":503,"v":3.19,"s":"13"},{"t":614,"v":3.03,"s":"15"},{"t":697,"v":3.32,"s":"17"},{"t":788,"v":3.22,"s":"19"},{"t":871,"v":3.03,"s":"21"},{"t":973,"v":2.84,"s":"25"},{"t":1083,"v":2.87,"s":"31"},{"t":1250,"v":3.0,"s":"37"},{"t":1500,"v":2.84,"s":"49"},{"t":170,"v":5.23,"s":"6"},{"t":265,"v":4.94,"s":"8"},{"t":348,"v":5.27,"s":"10"},{"t":455,"v":5.27,"s":"12"},{"t":561,"v":4.75,"s":"14"},{"t":644,"v":5.2,"s":"16"},{"t":814,"v":5.07,"s":"20"},{"t":2114,"v":2.84,"s":"81"},{"t":2705,"v":2.72,"s":"G6"},{"t":3144,"v":2.84,"s":"KM2"},{"t":2409,"v":4.37,"s":"96"},{"t":2545,"v":4.37,"s":"100"},{"t":3273,"v":3.91,"s":"M2"}]
},
"layer":[
 {"data":{"name":"chl"},"mark":{"type":"line","color":"#8b0a0a","strokeWidth":1},
  "encoding":{
   "x":{"field":"t","type":"quantitative","scale":{"domain":[0,3500],"nice":false},
    "axis":{"orient":"top","values":[0,250,500,750,1000,1250,1500,1750,2000,2250,2500,2750,3000,3250,3500],"format":"d","labelExpr":"datum.value % 500 === 0 ? datum.label : ''","tickSize":{"condition":{"test":"datum.value % 500 === 0","value":10},"value":5},"title":null}},
   "y":{"field":"v","type":"quantitative","scale":{"domain":[0,0.4],"range":[169,35],"nice":false,"zero":false},
    "axis":{"orient":"left","values":[0,0.1,0.2,0.3,0.4],"format":".1f","labelExpr":"(datum.value===0||datum.value===0.2||datum.value===0.4) ? datum.label : ''","tickSize":{"condition":{"test":"datum.value===0||datum.value===0.2||datum.value===0.4","value":10},"value":5},"title":["Chlorin MAR","(abs cm⁻² kyr⁻¹)"],"titleLineHeight":34,"titlePadding":28,"titleY":83}}}},
 {"data":{"name":"labA"},"mark":{"type":"text","fontSize":28,"align":"center","baseline":"middle"},
  "encoding":{"x":{"field":"t","type":"quantitative","axis":null},"y":{"field":"v","type":"quantitative","scale":{"domain":[0,0.4],"range":[169,35],"nice":false,"zero":false},"axis":null},"text":{"field":"s"}}},
 {"data":{"name":"labE"},"mark":{"type":"text","fontSize":28,"align":"center","baseline":"middle"},
  "encoding":{"x":{"field":"t","type":"quantitative","axis":null},"y":{"field":"v","type":"quantitative","scale":{"domain":[0,0.4],"range":[169,35],"nice":false,"zero":false},"axis":null},"text":{"field":"s"}}},
 {"data":{"name":"alk"},"mark":{"type":"line","color":"#0000ff","strokeWidth":1},
  "encoding":{
   "x":{"field":"t","type":"quantitative","axis":null},
   "y":{"field":"v","type":"quantitative","scale":{"domain":[0,10],"range":[336,169],"nice":false,"zero":false},
    "axis":{"orient":"right","values":[0,1.25,2.5,3.75,5,6.25,7.5,8.75,10],"format":".1f","labelExpr":"datum.value % 2.5 === 0 ? datum.label : ''","tickSize":{"condition":{"test":"datum.value % 2.5 === 0","value":10},"value":5},"title":["Alkenone MAR","(µg cm⁻² kyr⁻¹ )"],"titleLineHeight":37,"titlePadding":17,"titleY":268}}}},
 {"data":{"name":"labB"},"mark":{"type":"text","fontSize":28,"align":"center","baseline":"middle"},
  "encoding":{"x":{"field":"t","type":"quantitative","axis":null},"y":{"field":"v","type":"quantitative","scale":{"domain":[0,10],"range":[336,169],"nice":false,"zero":false},"axis":null},"text":{"field":"s"}}},
 {"data":{"name":"sst"},"mark":{"type":"line","color":"#ff6060","strokeWidth":1,"strokeDash":[2,2],"opacity":0.55},
  "encoding":{
   "x":{"field":"t","type":"quantitative","axis":null},
   "y":{"field":"h","type":"quantitative","scale":{"domain":[12,24],"range":[492,348],"nice":false,"zero":false},
    "axis":{"orient":"left","values":[11,12,13,14,15,16,17,18,19,20,21,22,23,24],"format":"d","labelExpr":"datum.value % 2 === 0 ? datum.label : ''","tickSize":{"condition":{"test":"datum.value % 2 === 0","value":10},"value":5},"title":"Uᴷ₃₇’ SST °C","titlePadding":22,"titleY":423}}}},
 {"data":{"name":"sst"},"mark":{"type":"line","color":"#ff6060","strokeWidth":1,"strokeDash":[2,2],"opacity":0.55},
  "encoding":{"x":{"field":"t","type":"quantitative","axis":null},"y":{"field":"l","type":"quantitative","scale":{"domain":[12,24],"range":[492,348],"nice":false,"zero":false},"axis":null}}},
 {"data":{"name":"sst"},"mark":{"type":"line","color":"#ff0000","strokeWidth":1,"point":{"shape":"square","size":28,"filled":true,"color":"#ff0000"}},
  "encoding":{"x":{"field":"t","type":"quantitative","axis":null},"y":{"field":"v","type":"quantitative","scale":{"domain":[12,24],"range":[492,348],"nice":false,"zero":false},"axis":null}}},
 {"data":{"name":"labC"},"mark":{"type":"text","fontSize":28,"align":"center","baseline":"middle"},
  "encoding":{"x":{"field":"t","type":"quantitative","axis":null},"y":{"field":"v","type":"quantitative","scale":{"domain":[12,24],"range":[492,348],"nice":false,"zero":false},"axis":null},"text":{"field":"s"}}},
 {"data":{"name":"lr"},"mark":{"type":"line","color":"black","strokeWidth":0.9},
  "encoding":{
   "x":{"field":"t","type":"quantitative","axis":null},
   "y":{"field":"v","type":"quantitative","scale":{"domain":[2.5,5.5],"range":[517,672],"nice":false,"zero":false},
    "axis":{"orient":"right","values":[2.25,2.5,2.75,3,3.25,3.5,3.75,4,4.25,4.5,4.75,5,5.25,5.5],"format":".1f","labelExpr":"datum.value % 0.5 === 0 ? datum.label : ''","tickSize":{"condition":{"test":"datum.value % 0.5 === 0","value":10},"value":5},"title":"LR04 Benthic stack","titlePadding":27,"titleY":618}}}},
 {"data":{"name":"labD"},"mark":{"type":"text","fontSize":28,"align":"center","baseline":"middle"},
  "encoding":{"x":{"field":"t","type":"quantitative","axis":null},"y":{"field":"v","type":"quantitative","scale":{"domain":[2.5,5.5],"range":[517,672],"nice":false,"zero":false},"axis":null},"text":{"field":"s"}}},
 {"data":{"name":"mis"},"mark":{"type":"text","fontSize":18,"align":"center","baseline":"middle"},
  "encoding":{"x":{"field":"t","type":"quantitative","axis":null},"y":{"field":"v","type":"quantitative","scale":{"domain":[2.5,5.5],"range":[517,672],"nice":false,"zero":false},"axis":null},"text":{"field":"s"}}},
 {"data":{"name":"vl"},"mark":{"type":"rule","color":"black","strokeWidth":1.5,"strokeDash":[4,2]},
  "encoding":{"x":{"field":"t","type":"quantitative",
   "axis":{"orient":"bottom","values":[0,250,500,750,1000,1250,1500,1750,2000,2250,2500,2750,3000,3250,3500],"format":"d","labelExpr":"datum.value % 500 === 0 ? datum.label : ''","tickSize":{"condition":{"test":"datum.value % 500 === 0","value":10},"value":5},"title":"Age (ka)","titleFontSize":29,"titlePadding":22,"titleX":399}}}}
],
"resolve":{"scale":{"y":"independent"},"axis":{"y":"independent","x":"independent"}}
}
